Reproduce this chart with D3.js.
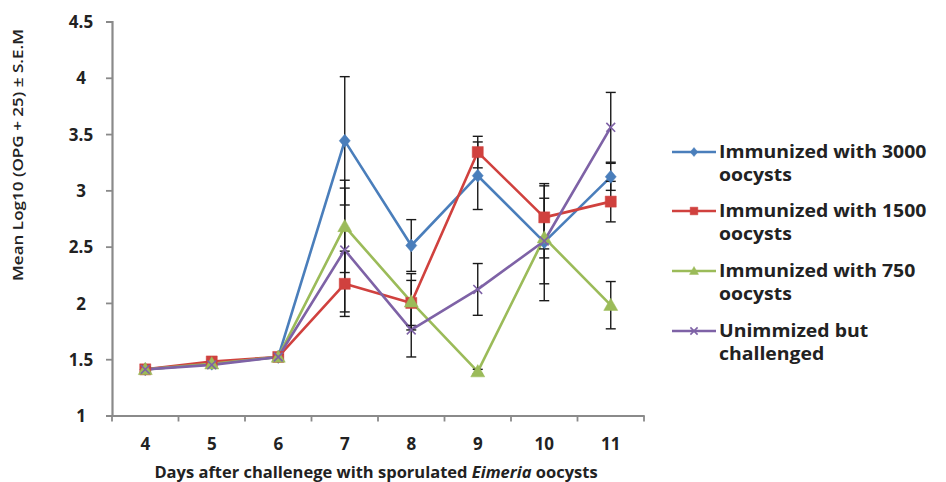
<!DOCTYPE html>
<html><head><meta charset="utf-8">
<script src="https://cdn.jsdelivr.net/npm/d3@7/dist/d3.min.js"></script>
<style>body{margin:0;background:#fff}svg{display:block}text{font-family:"Open Sans",sans-serif;font-weight:700;fill:#222}</style>
</head><body><svg id="c" width="946" height="482"></svg>
<script>
const days = [4,5,6,7,8,9,10,11];
const seriesNames = ["Immunized with 3000|oocysts","Immunized with 1500|oocysts","Immunized with 750|oocysts","Unimmized but|challenged"];
const v3000 = [1.41,1.46,1.52,3.44,2.51,3.13,2.54,3.12];
const v1500 = [1.41,1.48,1.52,2.17,2.00,3.34,2.76,2.90];
const v750  = [1.41,1.46,1.52,2.68,2.01,1.39,2.58,1.98];
const vUn   = [1.41,1.45,1.52,2.47,1.76,2.12,2.55,3.56];
const e3000 = [0.02,0.02,0.02,0.57,0.23,0.30,0.52,0.12];
const e1500 = [0.02,0.02,0.02,0.29,0.20,0.14,0.28,0.18];
const e750  = [0.02,0.02,0.02,0.41,0.25,0.02,0.18,0.21];
const eUn   = [0.02,0.02,0.02,0.55,0.24,0.23,0.38,0.31];
const yTicks = [1,1.5,2,2.5,3,3.5,4,4.5];
const colors = ["#4A7EBB","#D0413E","#9BBB59","#7E62A6"];

const svg = d3.select("#c");
const x = d3.scaleBand().domain(days).range([112,644]);
const y = d3.scaleLinear().domain([1,4.5]).range([415.5,21.5]);
const cx = d => x(d) + x.bandwidth()/2;
const axisCol = "#8a8a8a";

function marker(sel, s, r){
  if(s===0) sel.attr("d",`M0,${-r}L${r*0.85},0L0,${r}L${-r*0.85},0Z`).attr("fill",colors[s]).attr("stroke",colors[s]).attr("stroke-width",0.5);
  else if(s===1) sel.attr("d",`M${-r*0.85},${-r*0.85}H${r*0.85}V${r*0.85}H${-r*0.85}Z`).attr("fill",colors[s]).attr("stroke",colors[s]).attr("stroke-width",0.5);
  else if(s===2) sel.attr("d",`M0,${-r}L${r},${r*0.75}L${-r},${r*0.75}Z`).attr("fill",colors[s]).attr("stroke",colors[s]).attr("stroke-width",0.5);
  else sel.attr("d",`M${-r*0.8},${-r*0.8}L${r*0.8},${r*0.8}M${-r*0.8},${r*0.8}L${r*0.8},${-r*0.8}`).attr("fill","none").attr("stroke",colors[s]).attr("stroke-width",1.6);
}

// y axis
const ya = svg.append("g").attr("transform","translate(112,0)")
  .call(d3.axisLeft(y).tickValues(yTicks).tickSize(6).tickFormat(d3.format("")));
ya.select(".domain").attr("stroke",axisCol).attr("stroke-width",2.2);
ya.selectAll(".tick line").attr("stroke",axisCol).attr("stroke-width",1.8);
ya.selectAll(".tick text").attr("x",-31).attr("dy","0.36em").attr("text-anchor","middle")
  .style("font-size","17px").attr("fill","#222");

// x axis
const xa = svg.append("g").attr("transform","translate(0,415.5)")
  .call(d3.axisBottom(x).tickSize(0).tickPadding(0));
xa.select(".domain").attr("stroke",axisCol).attr("stroke-width",2.2);
xa.selectAll(".tick text").attr("y",34).attr("dy",0).style("font-size","17px").attr("fill","#222");
const bounds = days.map(d => x(d)).concat([644]);
svg.append("g").selectAll("line").data(bounds).join("line")
  .attr("x1",d=>d).attr("x2",d=>d).attr("y1",415.5).attr("y2",421.5)
  .attr("stroke",axisCol).attr("stroke-width",1.8);

const data = [v3000,v1500,v750,vUn];
const errs = [e3000,e1500,e750,eUn];

const line = d3.line().x((d,i)=>cx(days[i])).y(d=>y(d));
data.forEach((vals,s)=>{
  svg.append("path").datum(vals).attr("d",line).attr("fill","none")
    .attr("stroke",colors[s]).attr("stroke-width",2.6).attr("stroke-linejoin","round");
});
data.forEach((vals,s)=>{
  const g = svg.append("g").attr("stroke","#1a1a1a").attr("stroke-width",1.4);
  vals.forEach((v,i)=>{
    const e = errs[s][i]; const X = cx(days[i]);
    g.append("line").attr("x1",X).attr("x2",X).attr("y1",y(v-e)).attr("y2",y(v+e));
    [v-e,v+e].forEach(t=>g.append("line").attr("x1",X-5).attr("x2",X+5).attr("y1",y(t)).attr("y2",y(t)));
  });
});
const radii = [6.5,6.5,7,5.5];
data.forEach((vals,s)=>{
  svg.append("g").selectAll("path").data(vals).join("path")
    .attr("transform",(d,i)=>`translate(${cx(days[i])},${y(d)})`)
    .call(marker, s, radii[s]);
});

// legend
const lg = svg.append("g");
const legY = [152,211,271,331];
seriesNames.forEach((n,s)=>{
  const yy = legY[s];
  lg.append("line").attr("x1",672).attr("x2",716).attr("y1",yy).attr("y2",yy)
    .attr("stroke",colors[s]).attr("stroke-width",2.6);
  lg.append("path").attr("transform",`translate(694,${yy})`).call(marker, s, 4.5);
  n.split("|").forEach((p,k)=>{
    lg.append("text").attr("transform",`translate(719,${yy+6+k*23}) scale(1.05,1)`).text(p)
      .style("font-size","18.5px");
  });
});

// axis titles
svg.append("text").attr("transform","translate(23,155) rotate(-90) scale(1.22,1)").attr("text-anchor","middle")
  .style("font-size","14px").style("font-weight","600").text("Mean Log10 (OPG + 25) ± S.E.M");
const xt = svg.append("text").attr("x",376).attr("y",478).attr("text-anchor","middle")
  .style("font-size","16.5px");
xt.append("tspan").text("Days after challenege with sporulated ");
xt.append("tspan").style("font-style","italic").text("Eimeria");
xt.append("tspan").text(" oocysts");
</script></body></html>
